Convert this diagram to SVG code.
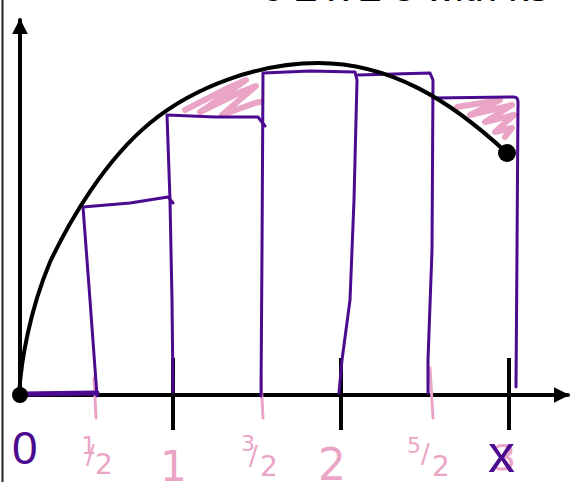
<svg xmlns="http://www.w3.org/2000/svg" width="578" height="482" viewBox="0 0 578 482">
<style>
.ax{stroke:#000;stroke-width:4;fill:none;stroke-linecap:round}
.tick{stroke:#000;stroke-width:4;fill:none}
.ptick{stroke:#eaa5c6;stroke-width:3;fill:none;stroke-linecap:round}
.rect{stroke:#4b0a8f;stroke-width:3;fill:none;stroke-linejoin:round;stroke-linecap:round}
.scrib{stroke:#eaa5c6;stroke-width:6;fill:none;stroke-linejoin:round;stroke-linecap:round}
.pk{fill:#eaa5c6;font-family:"DejaVu Sans",sans-serif}
.pu{fill:#4b0a8f;font-family:"Liberation Sans",sans-serif}
</style>
<defs>
<marker id="ah" viewBox="0 0 10 10" refX="9" refY="5" markerWidth="4" markerHeight="4" orient="auto" markerUnits="strokeWidth">
<path d="M0,0 L10,5 L0,10 z" fill="#000"/>
</marker>
</defs>
<rect width="578" height="482" fill="#fff"/>
<line x1="2.5" y1="0" x2="2.5" y2="482" stroke="#222" stroke-width="2"/>
<text x="262" y="1" font-family="Liberation Sans, sans-serif" font-size="40" fill="#000">0 ≤ x ≤ 3 with ks</text>
<g id="scribbles">
<path class="scrib" d="M185,110 L228,88 L246,80 L212,104 L200,112 L243,91 L256,86 L230,108 L222,115 L255,103 L260,102"/>
<path class="scrib" d="M457,107 L500,100 L470,115 L512,105 L485,122 L514,115 L495,132 L512,128 L505,137"/>
</g>
<g id="axes">
<line class="ax" x1="20" y1="395" x2="20" y2="20" marker-end="url(#ah)"/>
<line class="ax" x1="20" y1="395" x2="568" y2="395" marker-end="url(#ah)"/>
<line class="tick" x1="173" y1="358" x2="173" y2="430"/>
<line class="tick" x1="341" y1="358" x2="341" y2="430"/>
<line class="tick" x1="509" y1="358" x2="509" y2="430"/>
<line class="ptick" x1="94" y1="378" x2="96" y2="418"/>
<line class="ptick" x1="261" y1="378" x2="263" y2="418"/>
<line class="ptick" x1="430" y1="368" x2="433" y2="418"/>
</g>
<g id="rectangles">
<path class="rect" d="M22,394 L97,393" style="stroke-width:5"/>
<path class="rect" d="M97,396 L90,300 L83,207 L130,203 L168,197 L173,203"/>
<path class="rect" d="M173,392 L172,300 L170,200 L167,115 L215,117 L258,117 L265,126"/>
<path class="rect" d="M261,396 L262,250 L263,73 L310,71 L355,72 L357,80 L354,200 L350,300 L342,360 L339,393"/>
<path class="rect" d="M358,75 L430,73 L433,80 L432,250 L428,360 L428,393"/>
<path class="rect" d="M433,98 L514,97 Q518,97 518,102 L517,250 L516,387"/>
</g>
<g id="curve">
<path d="M19,395 C21,360 30,310 50,262 C70,220 105,160 150,123 C195,86 260,63 318,63 C390,63 450,100 507,153" stroke="#000" stroke-width="4" fill="none"/>
<circle cx="20" cy="395" r="8" fill="#000"/>
<circle cx="507" cy="153" r="9" fill="#000"/>
</g>
<g id="labels">
<text class="pu" x="12" y="464" font-size="46">0</text>
<text class="pk" font-size="24"><tspan x="81" y="454">1</tspan><tspan x="86" y="464" font-size="26">/</tspan><tspan x="95" y="474" font-size="28">2</tspan></text>
<text class="pk" x="160" y="481" font-size="42">1</text>
<text class="pk" font-size="22"><tspan x="241" y="451">3</tspan><tspan x="249" y="465" font-size="26">/</tspan><tspan x="260" y="476" font-size="28">2</tspan></text>
<text class="pk" x="318" y="480" font-size="44">2</text>
<text class="pk" font-size="22"><tspan x="407" y="453">5</tspan><tspan x="421" y="463" font-size="26">/</tspan><tspan x="432" y="476" font-size="28">2</tspan></text>
<text class="pk" x="493" y="470" font-size="36">3</text>
<text class="pu" x="488" y="472" font-size="54">x</text>
</g>
</svg>
